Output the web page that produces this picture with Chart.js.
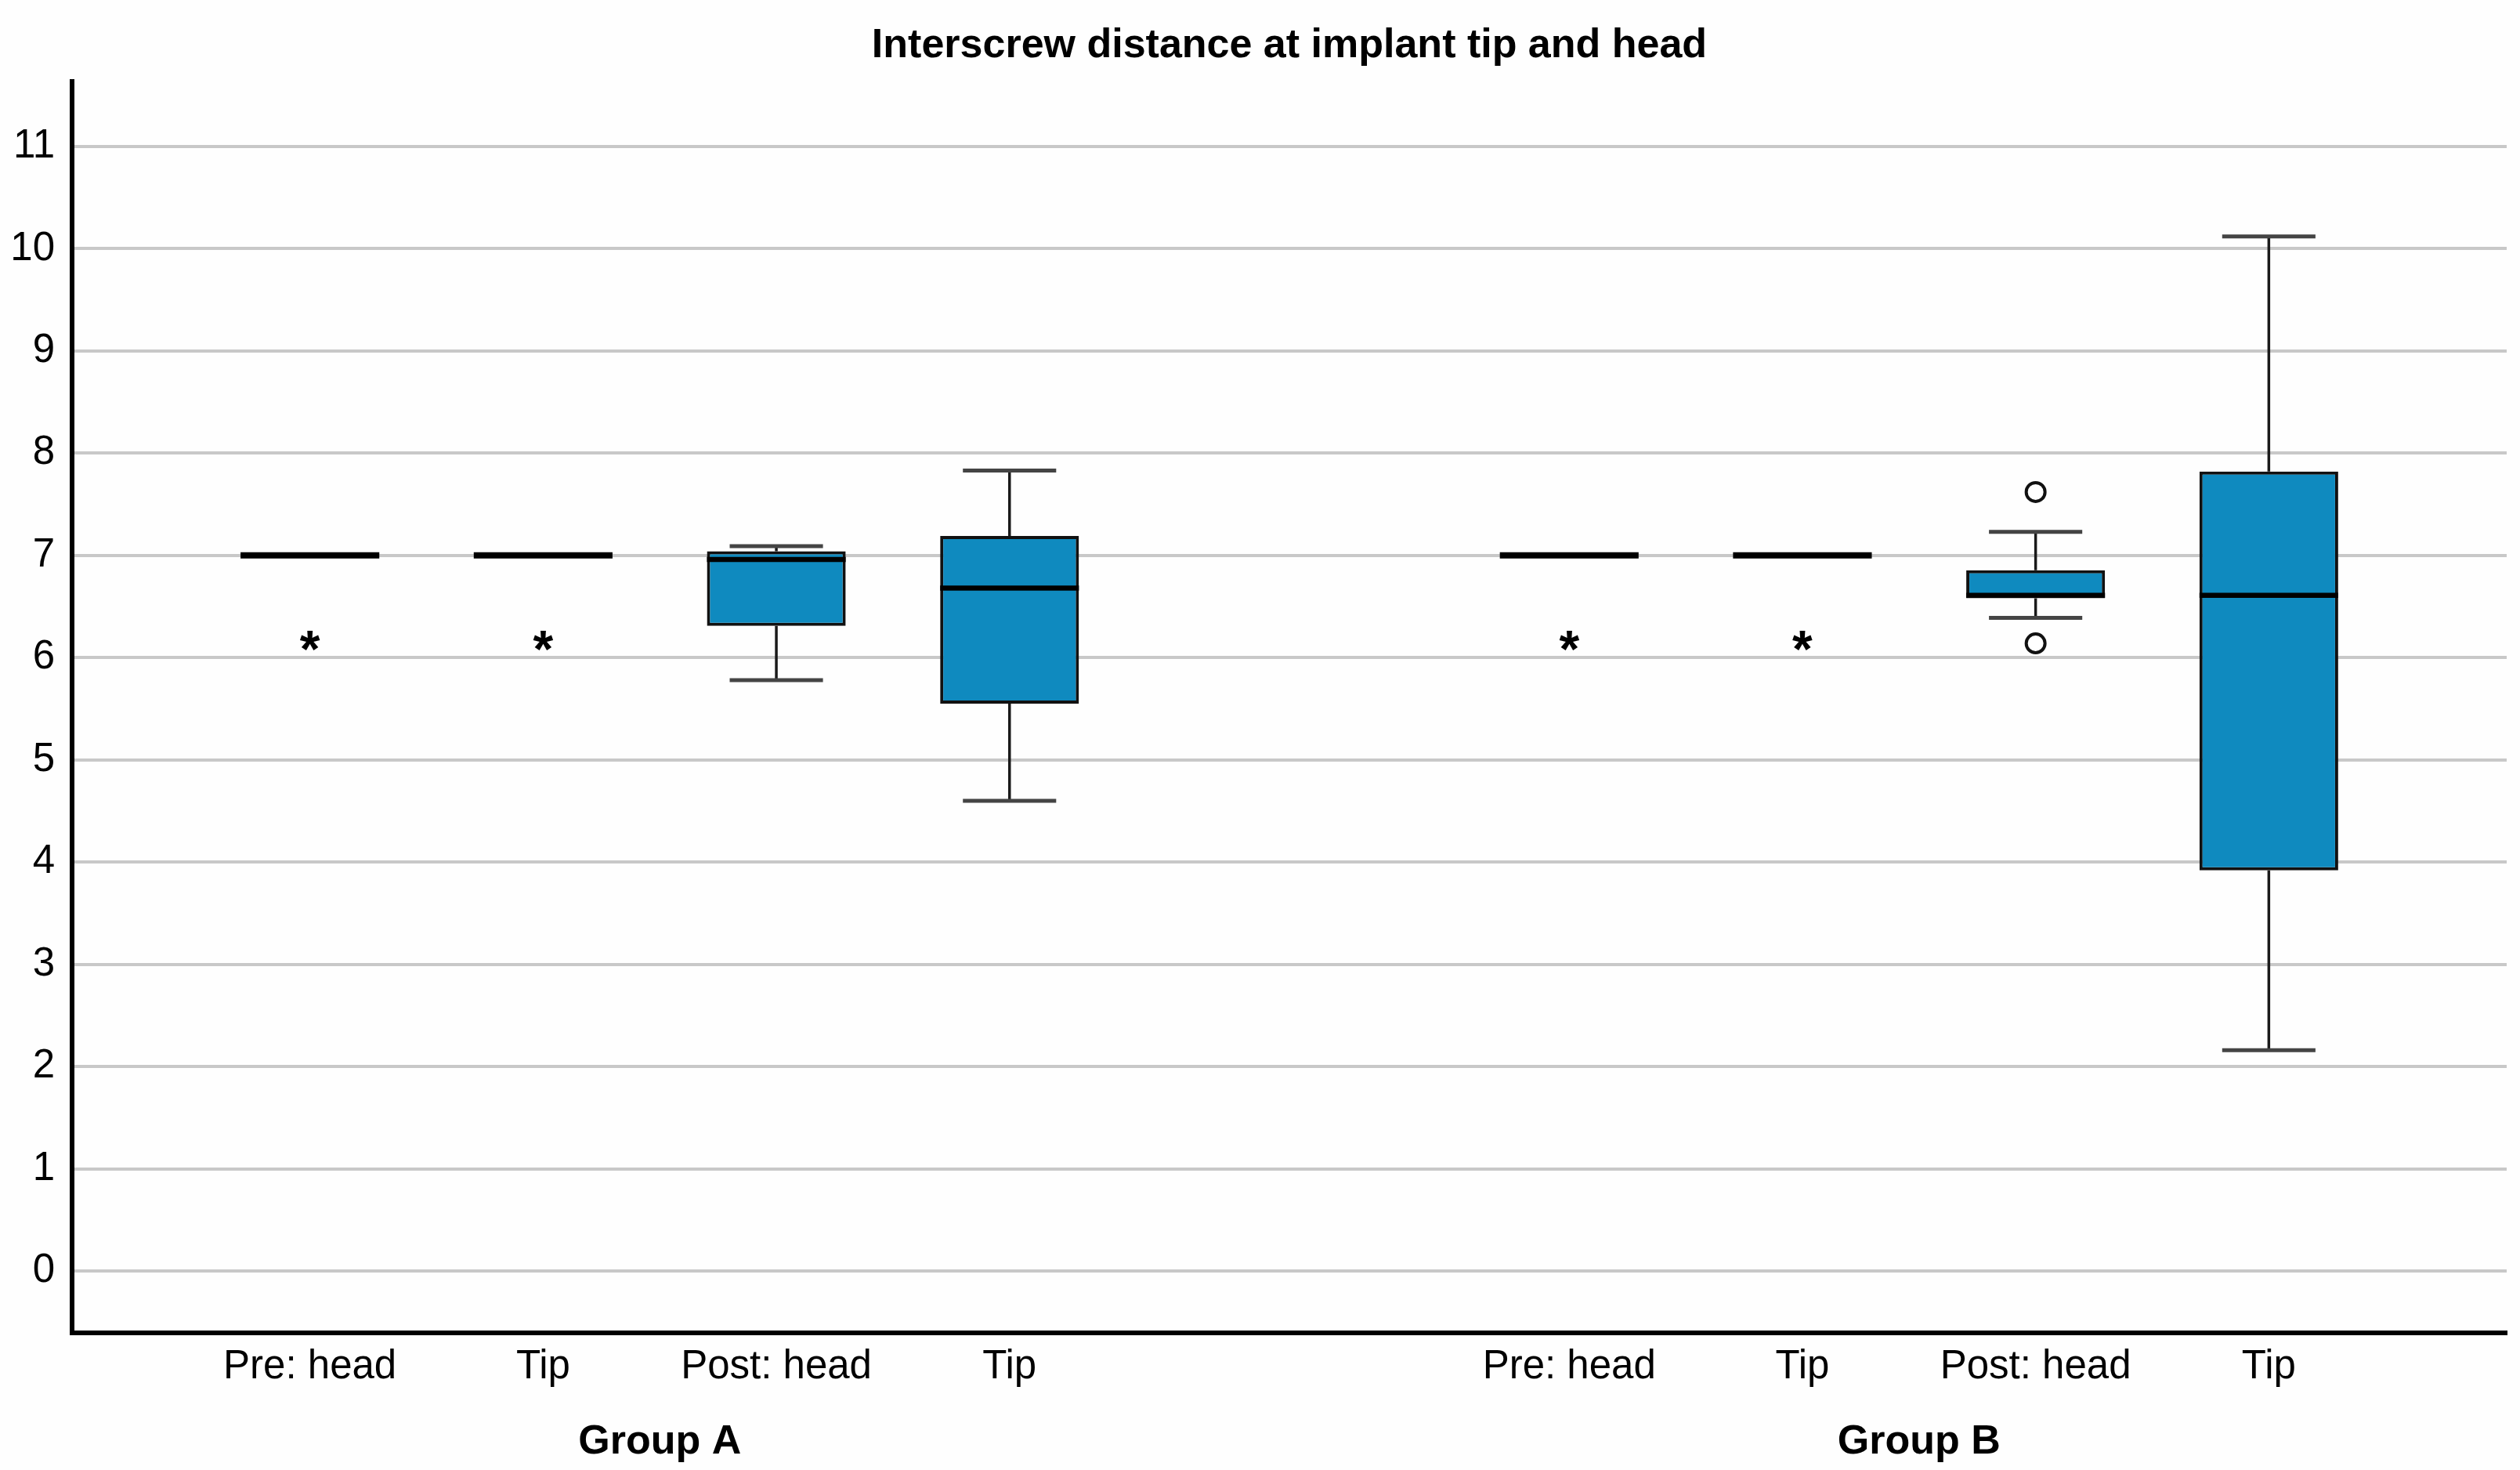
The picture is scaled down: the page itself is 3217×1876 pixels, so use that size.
<!DOCTYPE html>
<html>
<head>
<meta charset="utf-8">
<script src="https://cdn.jsdelivr.net/npm/chart.js@4.4.1/dist/chart.umd.min.js"></script>
<style>
  html, body { margin: 0; padding: 0; background: #fefefe; }
  canvas { display: block; }
</style>
</head>
<body>
<canvas id="boxChart" width="3217" height="1876" style="width:3217px;height:1876px"></canvas>
<script>
// categories along the x axis, two groups of four
const tickLabels = ['Pre: head', 'Tip', 'Post: head', 'Tip', 'Pre: head', 'Tip', 'Post: head', 'Tip'];
const groupLabels = ['Group A', 'Group B'];
const yTickValues = [0, 1, 2, 3, 4, 5, 6, 7, 8, 9, 10, 11];

// box plot values
const whiskerLow  = [7, 7, 5.78, 4.60, 7, 7, 6.39, 2.16];
const q1          = [7, 7, 6.31, 5.55, 7, 7, 6.58, 3.92];
const median      = [7, 7, 6.96, 6.68, 7, 7, 6.61, 6.61];
const q3          = [7, 7, 7.04, 7.19, 7, 7, 6.855, 7.82];
const whiskerHigh = [7, 7, 7.09, 7.83, 7, 7, 7.23, 10.12];
const outliers    = [[], [], [], [], [], [], [7.62, 6.14], []];
const extremes    = [[6.2], [6.2], [], [], [6.2], [6.2], [], []];

// layout of the slots on the linear x axis
const groupStep = 5.4;
const slot = i => Math.floor(i / 4) * groupStep + (i % 4);
const halfBox = 0.2975;
const halfCap = 0.2;

const boxBars = tickLabels.map((_, i) => ({ x: slot(i), y: [q1[i], q3[i]] }));
const outlierPoints = [];
outliers.forEach((list, i) => list.forEach(v => outlierPoints.push({ x: slot(i), y: v })));

const background = {
  id: 'background',
  beforeDraw(chart) {
    const {ctx} = chart;
    ctx.save();
    ctx.fillStyle = '#fefefe';
    ctx.fillRect(0, 0, chart.width, chart.height);
    ctx.restore();
  }
};

const boxParts = {
  id: 'boxParts',
  afterDatasetsDraw(chart) {
    const {ctx} = chart;
    const x = chart.scales.x;
    const y = chart.scales.y;
    ctx.save();
    tickLabels.forEach((_, i) => {
      const cx = x.getPixelForValue(slot(i));
      const hb = x.getPixelForValue(slot(i) + halfBox) - cx;
      const hc = x.getPixelForValue(slot(i) + halfCap) - cx;

      // whisker stems
      ctx.strokeStyle = '#1a1a1a';
      ctx.lineWidth = 3.5;
      ctx.beginPath();
      if (whiskerHigh[i] > q3[i]) {
        ctx.moveTo(cx, y.getPixelForValue(q3[i]));
        ctx.lineTo(cx, y.getPixelForValue(whiskerHigh[i]));
      }
      if (whiskerLow[i] < q1[i]) {
        ctx.moveTo(cx, y.getPixelForValue(q1[i]));
        ctx.lineTo(cx, y.getPixelForValue(whiskerLow[i]));
      }
      ctx.stroke();

      // whisker caps
      ctx.strokeStyle = '#444';
      ctx.lineWidth = 5;
      ctx.beginPath();
      if (whiskerHigh[i] > q3[i]) {
        const py = y.getPixelForValue(whiskerHigh[i]);
        ctx.moveTo(cx - hc, py); ctx.lineTo(cx + hc, py);
      }
      if (whiskerLow[i] < q1[i]) {
        const py = y.getPixelForValue(whiskerLow[i]);
        ctx.moveTo(cx - hc, py); ctx.lineTo(cx + hc, py);
      }
      ctx.stroke();

      // median
      ctx.strokeStyle = '#000';
      ctx.lineWidth = q3[i] > q1[i] ? 6.5 : 8;
      ctx.beginPath();
      const my = y.getPixelForValue(median[i]);
      ctx.moveTo(cx - hb, my); ctx.lineTo(cx + hb, my);
      ctx.stroke();

      // extreme values as asterisks
      ctx.fillStyle = '#000';
      ctx.font = 'bold 66px "Liberation Sans", Arial, sans-serif';
      ctx.textAlign = 'center';
      ctx.textBaseline = 'alphabetic';
      extremes[i].forEach(v => {
        ctx.fillText('*', cx, y.getPixelForValue(v) + 0.57 * 66);
      });
    });
    ctx.restore();
  }
};

new Chart(document.getElementById('boxChart'), {
  type: 'bar',
  data: {
    datasets: [{
      label: 'box',
      data: boxBars,
      backgroundColor: '#0f8abf',
      borderColor: '#111',
      borderWidth: 4,
      borderSkipped: false,
      barPercentage: 0.595,
      categoryPercentage: 1
    }, {
      type: 'scatter',
      label: 'outliers',
      data: outlierPoints,
      pointStyle: 'circle',
      pointRadius: 12,
      pointBorderWidth: 4,
      pointBorderColor: '#111',
      pointBackgroundColor: '#fff'
    }]
  },
  options: {
    responsive: false,
    animation: false,
    devicePixelRatio: 1,
    layout: { padding: { left: 0, right: 17, top: 0, bottom: 0 } },
    plugins: {
      legend: { display: false },
      tooltip: { enabled: false },
      title: {
        display: true,
        fullSize: false,
        text: 'Interscrew distance at implant tip and head',
        color: '#000',
        font: { family: '"Liberation Sans", Arial, sans-serif', size: 52, weight: 'bold', lineHeight: 1.2 },
        padding: { top: 27, bottom: 14.6 }
      }
    },
    scales: {
      x: {
        type: 'linear',
        position: 'bottom',
        weight: 0,
        min: -1.02,
        max: 9.42,
        offset: false,
        grid: { display: false, drawTicks: false },
        border: { display: true, color: '#000', width: 6 },
        afterBuildTicks: scale => { scale.ticks = tickLabels.map((_, i) => ({ value: slot(i) })); },
        afterFit: scale => { scale.height = 88; },
        ticks: {
          autoSkip: false,
          maxRotation: 0,
          padding: 13,
          color: '#000',
          font: { family: '"Liberation Sans", Arial, sans-serif', size: 51 },
          callback: (value, index) => tickLabels[index]
        }
      },
      x2: {
        type: 'linear',
        position: 'bottom',
        weight: 1,
        min: -1.02,
        max: 9.42,
        offset: false,
        grid: { display: false, drawTicks: false },
        border: { display: false },
        afterBuildTicks: scale => { scale.ticks = groupLabels.map((_, g) => ({ value: g * groupStep + 1.5 })); },
        afterFit: scale => { scale.height = 87; },
        ticks: {
          autoSkip: false,
          maxRotation: 0,
          padding: 20,
          color: '#000',
          font: { family: '"Liberation Sans", Arial, sans-serif', size: 52, weight: 'bold' },
          callback: (value, index) => groupLabels[index]
        }
      },
      y: {
        type: 'linear',
        min: -0.605,
        max: 11.636,
        grid: { color: '#c8c8c8', lineWidth: 4, drawTicks: false },
        border: { display: true, color: '#000', width: 6 },
        afterBuildTicks: scale => { scale.ticks = yTickValues.map(v => ({ value: v })); },
        afterFit: scale => { scale.width = 92; },
        ticks: {
          padding: 22,
          color: '#000',
          font: { family: '"Liberation Sans", Arial, sans-serif', size: 51 }
        }
      }
    }
  },
  plugins: [background, boxParts]
});
</script>
</body>
</html>
